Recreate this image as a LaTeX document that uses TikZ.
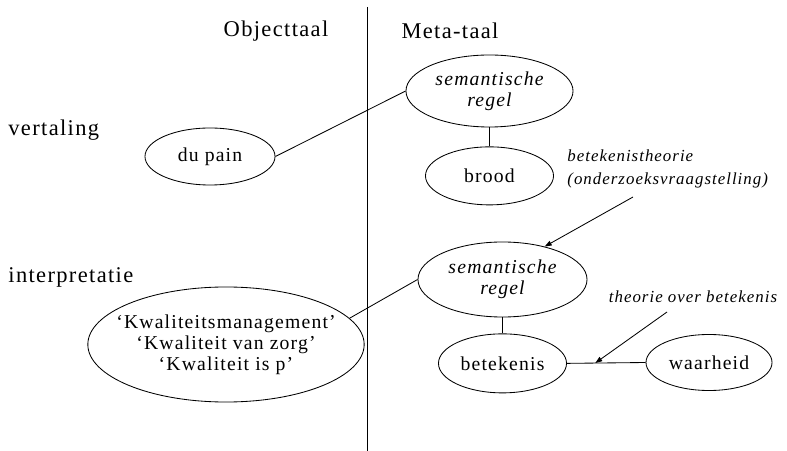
\documentclass[tikz,border=0pt]{standalone}
\usepackage{fontspec}
\setmainfont[LetterSpace=6]{Liberation Serif}
\usetikzlibrary{arrows.meta,positioning,calc,shapes.geometric}

\begin{document}
\begin{tikzpicture}[
  x=0.025cm,y=-0.025cm,line width=0.6pt,
  kop/.style={inner sep=0pt,font=\fontsize{16}{19}\selectfont},
  bol/.style={draw,ellipse,inner sep=0pt,align=center,font=\fontsize{14}{15}\selectfont},
  regel/.style={bol,font=\fontsize{14}{15}\selectfont\itshape,minimum width=4.2cm,minimum height=1.85cm},
  noot/.style={inner sep=0pt,align=left,font=\fontsize{12}{16.5}\selectfont\itshape},
  pijl/.style={-{Triangle[length=5pt,width=3.5pt]}},
]
\useasboundingbox (0,0) rectangle (787,451);
% kolommen
\coordinate (lijnboven) at (367,7);
\coordinate (lijnonder) at (367,451);
\draw (lijnboven) -- (lijnonder);
\node[kop] (obj) at (276,31) {Objecttaal};
\node[kop] (meta) at (450,31) {Meta-taal};
\node[kop,anchor=west] (vert) at (8,130) {vertaling};
\node[kop,anchor=west] (interp) at (8,277) {interpretatie};
% vertaling
\node[regel,minimum width=4.175cm,minimum height=1.8cm] (sr1) at (489.5,91) {semantische\\regel};
\node[bol,minimum width=3.2cm,minimum height=1.45cm,below=0.475cm of sr1] (brood) {brood};
\node[bol,minimum width=3.25cm,minimum height=1.425cm] (dp) at (210,156.5) {du pain};
\node[noot,anchor=west] (bth) at (567,169) {betekenistheorie\\(onderzoeksvraagstelling)};
% interpretatie
\node[regel,minimum width=4.225cm,minimum height=1.875cm] (sr2) at (502.5,279.5) {semantische\\regel};
\node[bol,minimum width=3.2cm,minimum height=1.475cm,below=0.4cm of sr2] (bet) {betekenis};
\node[bol,minimum width=3.15cm,minimum height=1.4cm] (wh) at (709,362.5) {waarheid};
\node[bol,minimum width=6.7cm,minimum height=2.875cm,inner xsep=-0.3cm] (kw) at (226,344.5)
  {‘Kwaliteitsmanagement’\\‘Kwaliteit van zorg’\\‘Kwaliteit is p’};
\node[noot] (tob) at (693,297) {theorie over betekenis};
% verbindingen
\draw (dp.east) -- (sr1.west);
\draw (sr1.south) -- (brood.north);
\draw (kw.12) -- (sr2.west);
\draw (sr2.south) -- (bet.north);
\draw (bet.east) -- (wh.west);
\coordinate (bthvoet) at (633,197);
\draw[pijl] (bthvoet) -- (sr2.38);
\coordinate (tobvoet) at (667,312);
\coordinate (bw) at ($(bet.east)!0.36!(wh.west)$);
\draw[pijl] (tobvoet) -- (bw);
\end{tikzpicture}
\end{document}
